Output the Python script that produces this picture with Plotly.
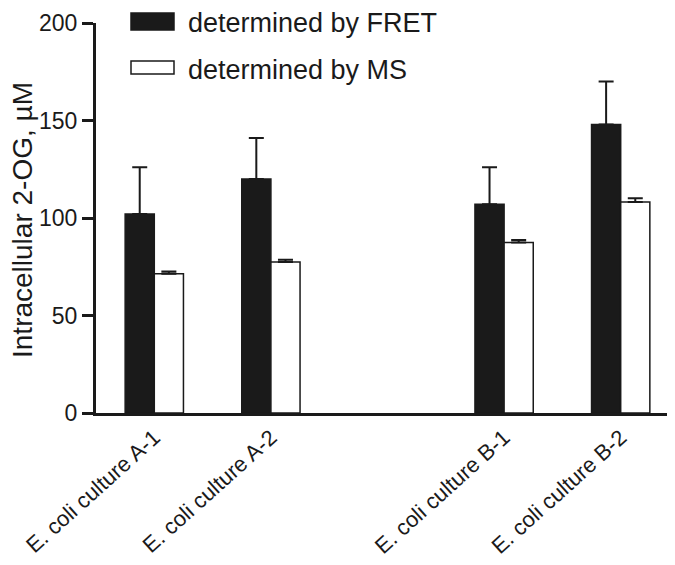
import plotly.graph_objects as go

categories = ["E. coli culture A-1", "E. coli culture A-2", "E. coli culture B-1", "E. coli culture B-2"]
cat_pos = [1, 2, 4, 5]  # empty slot between culture A and culture B groups
fret_vals = [102, 120, 107, 148]
fret_err = [24, 21, 19, 22]
ms_vals = [71.4, 77.4, 87.5, 108.2]
ms_err = [1.2, 1.2, 1.2, 1.9]
y_ticks = [0, 50, 100, 150, 200]
series_names = ["determined by FRET", "determined by MS"]

FONT = "Liberation Sans, Arial, sans-serif"
INK = "#1a1a1a"

fig = go.Figure()
fig.add_trace(go.Bar(
    x=cat_pos, y=fret_vals, name=series_names[0],
    marker=dict(color=INK, line=dict(color=INK, width=1.5)),
    error_y=dict(type="data", symmetric=False, array=fret_err, arrayminus=[0]*4,
                 color=INK, thickness=2, width=7.5),
    showlegend=False,
))
fig.add_trace(go.Bar(
    x=cat_pos, y=ms_vals, name=series_names[1],
    marker=dict(color="white", line=dict(color=INK, width=1.5)),
    error_y=dict(type="data", symmetric=False, array=ms_err, arrayminus=[0]*4,
                 color=INK, thickness=2, width=7.5),
    showlegend=False,
))

# custom legend (large swatches like the original)
W, H = 675, 565
PL, PR, PT, PB = 88, 671, 15, 405
legend_rows = [(series_names[0], INK, 13.5, 8.5), (series_names[1], "white", 59.5, 6.5)]
for name, fill, yc, hh in legend_rows:
    fig.add_shape(type="rect", xref="paper", yref="paper",
                  x0=(123 - PL) / (PR - PL), x1=(166 - PL) / (PR - PL),
                  y0=(PB - (yc + hh)) / (PB - PT), y1=(PB - (yc - hh)) / (PB - PT),
                  fillcolor=fill, line=dict(color=INK, width=1.5))
    fig.add_annotation(xref="paper", yref="paper",
                       x=(178 - PL) / (PR - PL), y=(PB - (yc + 2)) / (PB - PT),
                       text=name, showarrow=False, xanchor="left", yanchor="middle",
                       font=dict(family=FONT, size=27, color=INK))

# y-axis title placed explicitly so it clears the tick labels
fig.add_annotation(xref="paper", yref="paper",
                   x=(14 - PL) / (PR - PL), y=(PB - 212) / (PB - PT),
                   text="Intracellular 2-OG, µM", showarrow=False, textangle=-90,
                   xanchor="center", yanchor="middle",
                   font=dict(family=FONT, size=28, color=INK))

fig.update_layout(
    width=W, height=H,
    margin=dict(l=PL, r=W - PR, t=PT, b=H - PB),
    plot_bgcolor="white", paper_bgcolor="white",
    barmode="group", bargap=0.5, bargroupgap=0,
    font=dict(family=FONT, size=23, color=INK),
)
fig.update_xaxes(
    range=[0.5, 5.5], tickmode="array", tickvals=cat_pos, ticktext=categories,
    tickangle=-42, ticks="", showline=True, linecolor=INK, linewidth=3,
    showgrid=False, zeroline=False, tickfont=dict(size=22), automargin=False,
)
fig.update_yaxes(
    range=[0, 200], tickmode="array", tickvals=y_ticks,
    ticks="outside", ticklen=11, tickwidth=2.5, tickcolor=INK,
    showline=True, linecolor=INK, linewidth=3, showgrid=False, zeroline=False,
    tickfont=dict(size=23), automargin=False,
)

fig.write_html("out.html")
